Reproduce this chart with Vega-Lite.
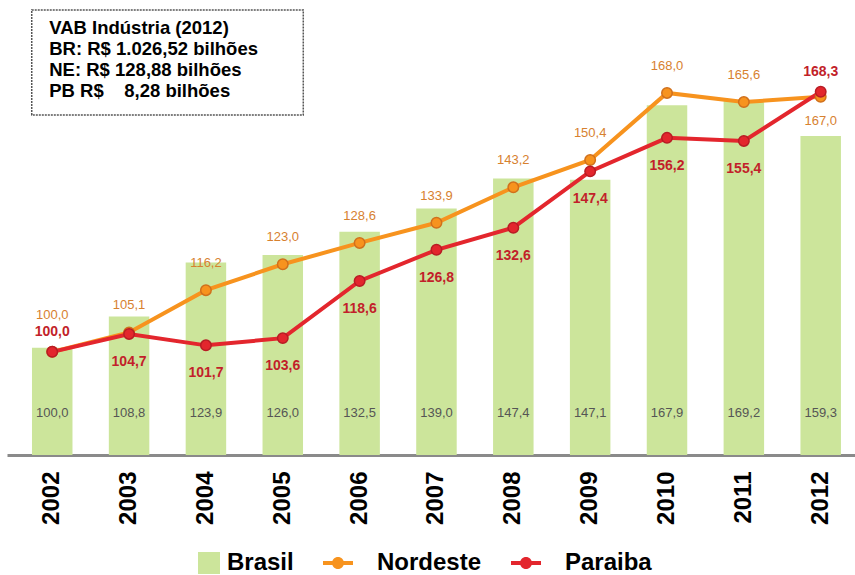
{
  "$schema": "https://vega.github.io/schema/vega-lite/v6.json",
  "width": 848,
  "height": 450,
  "padding": {"left": 7, "top": 5, "right": 0, "bottom": 0},
  "background": "white",
  "config": {
    "view": {"stroke": null},
    "font": "Liberation Sans",
    "locale": {"number": {"decimal": ",", "thousands": ".", "grouping": [3], "currency": ["R$ ", ""]}}
  },
  "datasets": {
    "dados": [
      {"ano": "2002", "serie": "Brasil", "valor": 100.0},
      {"ano": "2003", "serie": "Brasil", "valor": 108.8},
      {"ano": "2004", "serie": "Brasil", "valor": 123.9},
      {"ano": "2005", "serie": "Brasil", "valor": 126.0},
      {"ano": "2006", "serie": "Brasil", "valor": 132.5},
      {"ano": "2007", "serie": "Brasil", "valor": 139.0},
      {"ano": "2008", "serie": "Brasil", "valor": 147.4},
      {"ano": "2009", "serie": "Brasil", "valor": 147.1},
      {"ano": "2010", "serie": "Brasil", "valor": 167.9},
      {"ano": "2011", "serie": "Brasil", "valor": 169.2},
      {"ano": "2012", "serie": "Brasil", "valor": 159.3},
      {"ano": "2002", "serie": "Nordeste", "valor": 100.0},
      {"ano": "2003", "serie": "Nordeste", "valor": 105.1},
      {"ano": "2004", "serie": "Nordeste", "valor": 116.2},
      {"ano": "2005", "serie": "Nordeste", "valor": 123.0},
      {"ano": "2006", "serie": "Nordeste", "valor": 128.6},
      {"ano": "2007", "serie": "Nordeste", "valor": 133.9},
      {"ano": "2008", "serie": "Nordeste", "valor": 143.2},
      {"ano": "2009", "serie": "Nordeste", "valor": 150.4},
      {"ano": "2010", "serie": "Nordeste", "valor": 168.0},
      {"ano": "2011", "serie": "Nordeste", "valor": 165.6},
      {"ano": "2012", "serie": "Nordeste", "valor": 167.0},
      {"ano": "2002", "serie": "Paraiba", "valor": 100.0},
      {"ano": "2003", "serie": "Paraiba", "valor": 104.7},
      {"ano": "2004", "serie": "Paraiba", "valor": 101.7},
      {"ano": "2005", "serie": "Paraiba", "valor": 103.6},
      {"ano": "2006", "serie": "Paraiba", "valor": 118.6},
      {"ano": "2007", "serie": "Paraiba", "valor": 126.8},
      {"ano": "2008", "serie": "Paraiba", "valor": 132.6},
      {"ano": "2009", "serie": "Paraiba", "valor": 147.4},
      {"ano": "2010", "serie": "Paraiba", "valor": 156.2},
      {"ano": "2011", "serie": "Paraiba", "valor": 155.4},
      {"ano": "2012", "serie": "Paraiba", "valor": 168.3}
    ]
  },
  "data": {"name": "dados"},
  "encoding": {
    "x": {
      "field": "ano",
      "type": "ordinal",
      "scale": {"paddingInner": 0.473, "paddingOuter": 0.254, "align": 0.64},
      "axis": {
        "title": null,
        "labelAngle": -90,
        "labelFont": "Liberation Sans",
        "labelFontWeight": "bold",
        "labelFontSize": 24,
        "labelColor": "black",
        "labelPadding": 16,
        "ticks": false,
        "grid": false,
        "domainColor": "#8a8a8a",
        "domainWidth": 3
      }
    }
  },
  "layer": [
    {
      "encoding": {
        "y": {"field": "valor", "type": "quantitative", "scale": {"domain": [70, 196], "zero": false, "nice": false}, "axis": null}
      },
      "layer": [
        {
          "transform": [{"filter": "datum.serie === 'Brasil'"}],
          "mark": {"type": "bar"},
          "encoding": {
            "y2": {"datum": 70},
            "color": {
              "field": "serie",
              "type": "nominal",
              "scale": {"domain": ["Brasil", "Nordeste", "Paraiba"], "range": ["#cce59b", "#f7931e", "#e3262d"]},
              "legend": {
                "orient": "none",
                "legendX": 163,
                "legendY": 533,
                "direction": "horizontal",
                "title": null,
                "labelFont": "Liberation Sans",
                "labelFontWeight": "bold",
                "labelFontSize": 24,
                "labelColor": "black",
                "symbolSize": 2500,
                "symbolStrokeWidth": 0,
                "columnPadding": 26,
                "labelOffset": 7,
                "encode": {
                  "symbols": {
                    "update": {
                      "shape": {"signal": "datum.value === 'Brasil' ? 'M0.12,-0.44H1V0.44H0.12Z' : 'M-0.88,-0.08H0.32V0.08H-0.88Z M-0.52,0A0.24,0.24 0 1,1 -0.04,0A0.24,0.24 0 1,1 -0.52,0Z'"},
                      "fill": {"signal": "scale('color', datum.value)"},
                      "opacity": {"value": 1},
                      "strokeWidth": {"value": 0}
                    }
                  }
                }
              }
            }
          }
        },
        {
          "transform": [{"filter": "datum.serie === 'Brasil'"}],
          "mark": {"type": "text", "font": "Liberation Sans", "fontSize": 13, "color": "#555555", "baseline": "middle"},
          "encoding": {
            "y": {"datum": 81.8},
            "text": {"field": "valor", "type": "quantitative", "format": ".1f"}
          }
        },
        {
          "transform": [{"filter": "datum.serie === 'Brasil' && datum.ano === '2002'"}],
          "mark": {"type": "rect", "fill": "white", "fillOpacity": 0, "stroke": "#555555", "strokeWidth": 1.5, "strokeDash": [2, 1], "xOffset": -20.5, "x2Offset": 20.5},
          "encoding": {
            "x": {"datum": "2002"},
            "x2": {"datum": "2005"},
            "y": {"datum": 194.6},
            "y2": {"datum": 165.2}
          }
        },
        {
          "transform": [{"filter": "datum.serie === 'Brasil' && datum.ano === '2002'"}],
          "mark": {"type": "text", "align": "left", "baseline": "top", "font": "Liberation Sans", "fontWeight": "bold", "fontSize": 18.5, "lineHeight": 21, "dx": -3, "color": "black"},
          "encoding": {
            "x": {"datum": "2002"},
            "y": {"datum": 192.2},
            "text": {"value": ["VAB Indústria (2012)", "BR: R$ 1.026,52 bilhões", "NE: R$ 128,88 bilhões", "PB R$\u00a0\u00a0\u00a0\u00a08,28 bilhões"]}
          }
        }
      ]
    },
    {
      "encoding": {
        "y": {"field": "valor", "type": "quantitative", "scale": {"domain": [72.9, 191.1], "zero": false, "nice": false}, "axis": null}
      },
      "layer": [
        {
          "transform": [{"filter": "datum.serie !== 'Brasil'"}],
          "mark": {"type": "line", "strokeWidth": 4},
          "encoding": {
            "color": {"field": "serie", "type": "nominal"}
          }
        },
        {
          "transform": [{"filter": "datum.serie !== 'Brasil'"}],
          "mark": {"type": "point", "shape": "circle", "filled": true, "size": 110, "strokeWidth": 1.5, "opacity": 1},
          "encoding": {
            "color": {"field": "serie", "type": "nominal"},
            "stroke": {"field": "serie", "type": "nominal", "scale": {"domain": ["Nordeste", "Paraiba"], "range": ["#d0701c", "#b81c24"]}, "legend": null}
          }
        },
        {
          "transform": [{"filter": "datum.serie === 'Nordeste' && datum.ano !== '2002' && datum.ano !== '2012'"}],
          "mark": {"type": "text", "font": "Liberation Sans", "fontSize": 13, "color": "#d7812f", "dy": -27},
          "encoding": {"text": {"field": "valor", "type": "quantitative", "format": ".1f"}}
        },
        {
          "transform": [{"filter": "datum.serie === 'Nordeste' && datum.ano === '2002'"}],
          "mark": {"type": "text", "font": "Liberation Sans", "fontSize": 13, "color": "#d7812f", "dy": -37},
          "encoding": {"text": {"field": "valor", "type": "quantitative", "format": ".1f"}}
        },
        {
          "transform": [{"filter": "datum.serie === 'Nordeste' && datum.ano === '2012'"}],
          "mark": {"type": "text", "font": "Liberation Sans", "fontSize": 13, "color": "#d7812f", "dy": 24},
          "encoding": {"text": {"field": "valor", "type": "quantitative", "format": ".1f"}}
        },
        {
          "transform": [{"filter": "datum.serie === 'Paraiba' && datum.ano !== '2002' && datum.ano !== '2012'"}],
          "mark": {"type": "text", "font": "Liberation Sans", "fontSize": 14, "fontWeight": "bold", "color": "#c21f2a", "dy": 28},
          "encoding": {"text": {"field": "valor", "type": "quantitative", "format": ".1f"}}
        },
        {
          "transform": [{"filter": "datum.serie === 'Paraiba' && (datum.ano === '2002' || datum.ano === '2012')"}],
          "mark": {"type": "text", "font": "Liberation Sans", "fontSize": 14, "fontWeight": "bold", "color": "#c21f2a", "dy": -20},
          "encoding": {"text": {"field": "valor", "type": "quantitative", "format": ".1f"}}
        }
      ]
    }
  ],
  "resolve": {"scale": {"y": "independent"}}
}
